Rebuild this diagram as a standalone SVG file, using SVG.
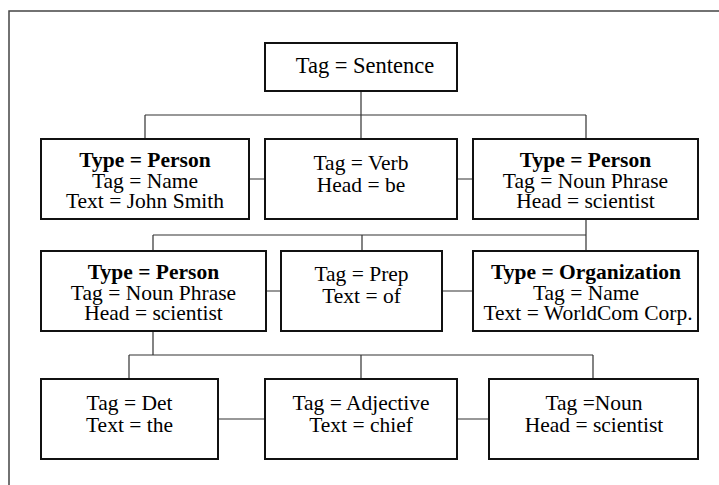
<svg xmlns="http://www.w3.org/2000/svg" width="719" height="485" viewBox="0 0 719 485">
  <style>
    .box { fill: #ffffff; stroke: #111111; stroke-width: 2; }
    .link { fill: none; stroke: #333333; stroke-width: 1.2; }
    .frame { fill: none; stroke: #444444; stroke-width: 1.5; }
    .label { font-family: 'Liberation Serif', Tinos, 'Times New Roman', Times, 'DejaVu Serif', serif; font-size: 21.5px; fill: #000000; text-anchor: middle; }
    .root { font-size: 22.5px; }
    .b { font-weight: bold; }
  </style>
  <rect width="719" height="485" fill="#ffffff"/>
  <path class="frame" d="M9,485 V11 H719"/>

  <g id="connectors">
    <path class="link" d="M361,91 V139 M145,115 H586 M145,115 V139 M586,115 V139"/>
    <path class="link" d="M249,179 H265 M457,179 H473"/>
    <path class="link" d="M586,219 V251 M153,235 H586 M153,235 V251 M362,235 V251"/>
    <path class="link" d="M266,291 H281 M442,291 H473"/>
    <path class="link" d="M153,331 V355 M129,355 H593 M129,355 V379 M361,355 V379 M593,355 V379"/>
    <path class="link" d="M218,419 H265 M457,419 H489"/>
  </g>

  <g id="sentence">
    <rect class="box" x="265" y="43" width="192" height="48"/>
    <text class="label root" x="365" y="73">Tag = Sentence</text>
  </g>

  <g id="john-smith">
    <rect class="box" x="41" y="139" width="208" height="80"/>
    <text class="label b" x="145" y="167">Type = Person</text>
    <text class="label" x="145" y="187.5">Tag = Name</text>
    <text class="label" x="145" y="208">Text = John Smith</text>
  </g>

  <g id="verb">
    <rect class="box" x="265" y="139" width="192" height="80"/>
    <text class="label" x="361" y="170">Tag = Verb</text>
    <text class="label" x="361" y="192">Head = be</text>
  </g>

  <g id="noun-phrase">
    <rect class="box" x="473" y="139" width="225" height="80"/>
    <text class="label b" x="585.5" y="167">Type = Person</text>
    <text class="label" x="585.5" y="187.5">Tag = Noun Phrase</text>
    <text class="label" x="585.5" y="208">Head = scientist</text>
  </g>

  <g id="noun-phrase-inner">
    <rect class="box" x="41" y="251" width="225" height="80"/>
    <text class="label b" x="153.5" y="279">Type = Person</text>
    <text class="label" x="153.5" y="299.5">Tag = Noun Phrase</text>
    <text class="label" x="153.5" y="320">Head = scientist</text>
  </g>

  <g id="prep">
    <rect class="box" x="281" y="251" width="161" height="80"/>
    <text class="label" x="361.5" y="281">Tag = Prep</text>
    <text class="label" x="361.5" y="303">Text = of</text>
  </g>

  <g id="organization">
    <rect class="box" x="473" y="251" width="225" height="80"/>
    <text class="label b" x="586" y="279">Type = Organization</text>
    <text class="label" x="586" y="299.5">Tag = Name</text>
    <text class="label" x="588" y="320">Text = WorldCom Corp.</text>
  </g>

  <g id="det">
    <rect class="box" x="41" y="379" width="177" height="80"/>
    <text class="label" x="129.5" y="410">Tag = Det</text>
    <text class="label" x="129.5" y="432">Text = the</text>
  </g>

  <g id="adjective">
    <rect class="box" x="265" y="379" width="192" height="80"/>
    <text class="label" x="361" y="410">Tag = Adjective</text>
    <text class="label" x="361" y="432">Text = chief</text>
  </g>

  <g id="noun">
    <rect class="box" x="489" y="379" width="209" height="80"/>
    <text class="label" x="594" y="410">Tag =Noun</text>
    <text class="label" x="594" y="432">Head = scientist</text>
  </g>
</svg>
